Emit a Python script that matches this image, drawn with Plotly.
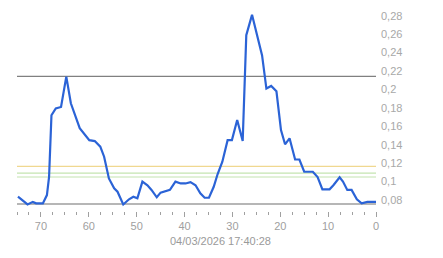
import plotly.graph_objects as go

t_vals = [74.8, 72.8, 71.7, 71.0, 69.6, 68.75, 68.3, 67.8, 66.9, 65.8, 64.7, 63.75, 61.9, 59.9,
          58.75, 57.6, 56.8, 55.8, 54.7, 54.0, 52.8, 51.6, 50.7, 49.85, 48.8, 47.75, 46.9, 45.8,
          45.0, 44.2, 43.05, 41.9, 40.8, 39.8, 38.75, 37.7, 36.7, 35.8, 34.9, 33.9, 33.1, 32.1,
          31.0, 30.1, 29.0, 27.85, 27.4, 27.1, 25.9, 23.8, 22.9, 21.9, 20.8, 19.85, 19.0, 18.06,
          16.9, 16.0, 15.0, 13.2, 12.2, 11.2, 9.7, 8.9, 7.6, 6.9, 6.0, 5.1, 4.0, 3.0, 1.8, 0.0]
v_vals = [0.0836, 0.0752, 0.078, 0.0764, 0.0764, 0.0854, 0.105, 0.172, 0.1795, 0.181, 0.214, 0.185,
          0.158, 0.145, 0.144, 0.138, 0.127, 0.1035, 0.0927, 0.089, 0.0752, 0.0808, 0.0836, 0.0818,
          0.1, 0.096, 0.091, 0.083, 0.088, 0.089, 0.091, 0.1, 0.098, 0.098, 0.0995, 0.096, 0.0873,
          0.0825, 0.0825, 0.0944, 0.108, 0.1216, 0.145, 0.145, 0.1668, 0.144, 0.2157, 0.259, 0.281,
          0.237, 0.201, 0.2038, 0.198, 0.156, 0.1405, 0.147, 0.124, 0.124, 0.1107, 0.1107, 0.105,
          0.0916, 0.0916, 0.096, 0.1046, 0.1, 0.091, 0.091, 0.0808, 0.0764, 0.078, 0.078]

ref_levels = [0.2142, 0.1166, 0.1093, 0.105, 0.0757]
ref_colors = ["#808080", "#f0d890", "#c4e4b0", "#c4e4b0", "#6e6e6e"]

y_ticks = [0.08, 0.10, 0.12, 0.14, 0.16, 0.18, 0.20, 0.22, 0.24, 0.26, 0.28]
y_text = ["0,08", "0,1", "0,12", "0,14", "0,16", "0,18", "0,2", "0,22", "0,24", "0,26", "0,28"]
x_ticks = [0, 10, 20, 30, 40, 50, 60, 70]
title_text = "04/03/2026 17:40:28"

fig = go.Figure()
fig.add_trace(go.Scatter(x=t_vals, y=v_vals, mode="lines",
                         line=dict(color="#2b63d6", width=2.2), hoverinfo="skip"))

for lv, col in zip(ref_levels, ref_colors):
    fig.add_shape(type="line", xref="paper", x0=0, x1=1, yref="y", y0=lv, y1=lv,
                  layer="below", line=dict(color=col, width=1.2))

ppu = 921.4
y_bot = 0.0757 - 7 / ppu
y_top = 0.0757 + 197 / ppu

fig.update_layout(
    width=443, height=258,
    margin=dict(l=17, r=67, t=7, b=47),
    paper_bgcolor="white", plot_bgcolor="white",
    showlegend=False,
    font=dict(family="Liberation Sans, Arial, sans-serif", size=11, color="#a8a8a8"),
    xaxis=dict(range=[75, 0], showgrid=False, zeroline=False, showline=False,
               tickvals=x_ticks, ticks="outside", ticklen=5, tickcolor="#a0a0a0",
               tickfont=dict(size=11, color="#a0a0a0"),
               minor=dict(dtick=2.5, tick0=0, ticks="outside", ticklen=3, tickcolor="#a0a0a0")),
    yaxis=dict(range=[y_bot, y_top], side="right", showgrid=False, zeroline=False,
               showline=False, tickvals=y_ticks, ticktext=y_text, ticks="",
               ticklabelstandoff=4,
               tickfont=dict(size=11, color="#a8a8a8")),
    annotations=[dict(text=title_text, xref="paper", yref="paper",
                      x=(220 - 17) / 359, y=0, yshift=-30, xanchor="center", yanchor="middle",
                      showarrow=False, font=dict(size=11, color="#9a9a9a"))],
)

fig.write_html("out.html")
